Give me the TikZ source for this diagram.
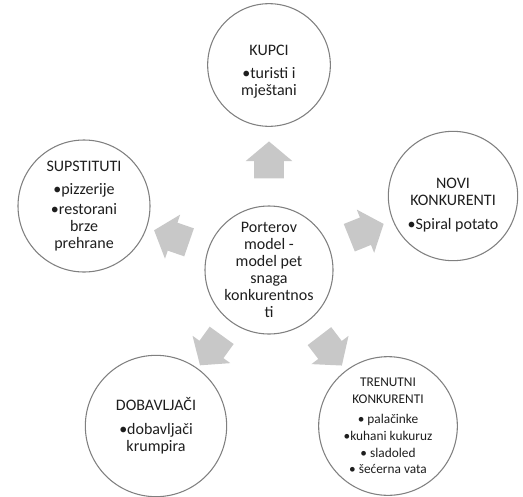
\documentclass[tikz,border=0pt]{standalone}
\usepackage{fontspec}
\setmainfont{Carlito}
\usepackage{tikz}
\usetikzlibrary{shapes.arrows}

\definecolor{ringgray}{RGB}{128,128,128}
\definecolor{flowgray}{RGB}{200,200,200}
\definecolor{inkgray}{RGB}{30,30,30}

\tikzset{
	ring/.style={circle, draw=ringgray, line width=0.8pt, fill=white, inner sep=0pt},
	txt/.style={align=center, text=inkgray, font=\fontsize{12}{12.8}\selectfont},
	smalltxt/.style={align=center, text=inkgray, font=\fontsize{10}{12.5}\selectfont},
	flow/.style={single arrow, fill=flowgray, draw=none,
		inner xsep=0pt, inner ysep=10.9pt,
		minimum height=27.75pt, minimum width=34.5pt,
		single arrow head extend=6.4pt, single arrow tip angle=100,
		midway, sloped, allow upside down}
}

\begin{document}
\begin{tikzpicture}[x=0.75pt, y=-0.75pt]
	\useasboundingbox (0,0) rectangle (523,496);
	% circles
	\node[ring, minimum size=96pt] (porter) at (269,270) {};
	\node[ring, minimum size=92pt] (kupci) at (269,65) {};
	\node[ring, minimum size=97pt] (novi) at (453,196) {};
	\node[ring, minimum size=99pt] (supstituti) at (84,206) {};
	\node[ring, minimum size=106pt] (dobavljaci) at (156,426) {};
	\node[ring, minimum size=104pt] (trenutni) at (388,426) {};
	% block arrows, centre outwards
	\foreach \k in {kupci,novi,trenutni,dobavljaci,supstituti} {
		\path (porter) -- (\k) node[flow] {};
	}
	% texts
	\node[txt] at (porter) {Porterov\\model -\\model pet\\snaga\\konkurentnos\\ti};
	\node[txt] at ([yshift=-5pt]kupci.center) {KUPCI\\[5pt]•turisti i\\mještani};
	\node[txt] at ([yshift=-7pt]novi.center) {NOVI\\KONKURENTI\\[5pt]•Spiral potato};
	\node[txt] at (supstituti) {SUPSTITUTI\\[5pt]•pizzerije\\[2pt]•restorani\\brze\\prehrane};
	\node[txt] at (dobavljaci) {DOBAVLJAČI\\[5pt]•dobavljači\\krumpira};
	\node[smalltxt] at (trenutni) {TRENUTNI\\KONKURENTI\\[3pt]• palačinke\\•kuhani kukuruz\\• sladoled\\• šećerna vata};
\end{tikzpicture}
\end{document}
